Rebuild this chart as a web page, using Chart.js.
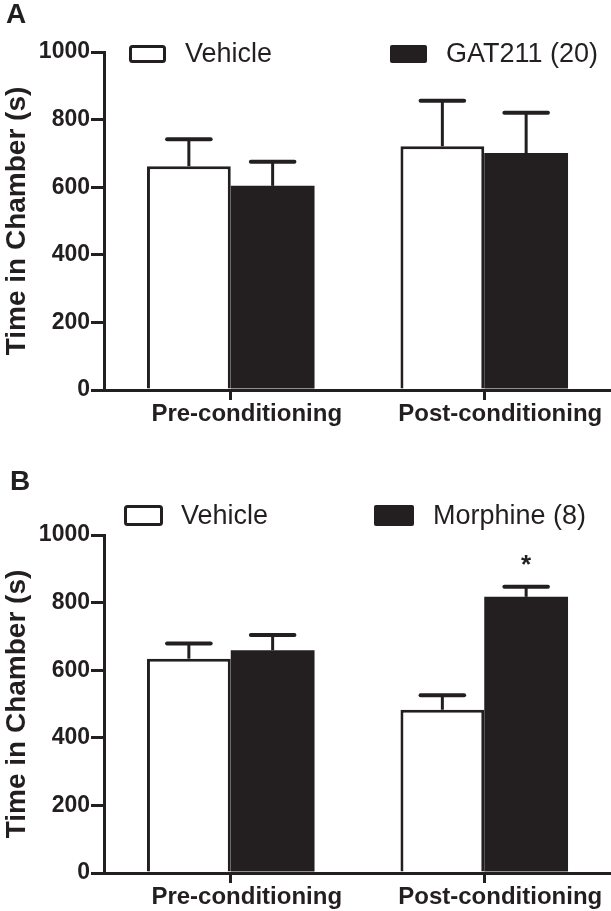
<!DOCTYPE html>
<html>
<head>
<meta charset="utf-8">
<script src="https://cdn.jsdelivr.net/npm/chart.js@4.4.1/dist/chart.umd.min.js"></script>
<style>
  html, body { margin: 0; padding: 0; background: #fff; }
  .panel { position: absolute; left: 0; width: 611px; }
  #panelA { top: 0; height: 450px; }
  #panelB { top: 450px; height: 461px; }
</style>
</head>
<body>
<div class="panel" id="panelA"><canvas id="chartA" width="611" height="450"></canvas></div>
<div class="panel" id="panelB"><canvas id="chartB" width="611" height="461"></canvas></div>
<script>
// ---- data ----
const categories = ['Pre-conditioning', 'Post-conditioning'];
const yTicks = [0, 200, 400, 600, 800, 1000];
const yTitle = 'Time in Chamber (s)';

// Panel A
const namesA = ['Vehicle', 'GAT211 (20)'];
const vehicleA = [662, 721];
const vehicleAErr = [80, 135];
const gatA = [604, 701];
const gatAErr = [71, 119];

// Panel B
const namesB = ['Vehicle', 'Morphine (8)'];
const vehicleB = [634, 483];
const vehicleBErr = [45, 43];
const morphineB = [659, 817];
const morphineBErr = [45, 30];
const morphineBSig = ['', '*'];

const INK = '#231f20';
const FONT = "'Liberation Sans', Arial, sans-serif";

// error bars (upper only) + significance marks
const errorBarPlugin = {
  id: 'errorBars',
  afterDatasetsDraw(chart) {
    const ctx = chart.ctx;
    const yScale = chart.scales.y;
    ctx.save();
    ctx.strokeStyle = INK;
    ctx.fillStyle = INK;
    chart.data.datasets.forEach((ds, i) => {
      const meta = chart.getDatasetMeta(i);
      meta.data.forEach((bar, j) => {
        const top = ds.data[j] + (ds.errors ? ds.errors[j] : 0);
        const yTop = yScale.getPixelForValue(top);
        if (ds.errors) {
          ctx.lineWidth = 3;
          ctx.lineCap = 'butt';
          ctx.beginPath();
          ctx.moveTo(bar.x, bar.y);
          ctx.lineTo(bar.x, yTop);
          ctx.stroke();
          const half = bar.width * 0.26;
          ctx.lineWidth = 4;
          ctx.lineCap = 'round';
          ctx.beginPath();
          ctx.moveTo(bar.x - half, yTop);
          ctx.lineTo(bar.x + half, yTop);
          ctx.stroke();
        }
        if (ds.sig && ds.sig[j]) {
          ctx.font = 'bold 26px ' + FONT;
          ctx.textAlign = 'center';
          ctx.textBaseline = 'middle';
          ctx.fillText(ds.sig[j], bar.x, yTop - 21);
        }
      });
    });
    ctx.restore();
  }
};

// panel letter + hand placed legend
const panelDecorPlugin = {
  id: 'panelDecor',
  afterDraw(chart, args, opts) {
    const ctx = chart.ctx;
    ctx.save();
    ctx.fillStyle = INK;
    ctx.font = 'bold 28px ' + FONT;
    ctx.textAlign = 'left';
    ctx.textBaseline = 'alphabetic';
    ctx.fillText(opts.letter, opts.letterX, opts.letterY);

    ctx.font = '27px ' + FONT;
    ctx.textBaseline = 'middle';
    chart.data.datasets.forEach((ds, i) => {
      const it = opts.items[i];
      if (ds.backgroundColor === '#ffffff') {
        ctx.lineWidth = 3;
        ctx.strokeStyle = INK;
        ctx.beginPath();
        ctx.roundRect(it.x + 1.5, opts.boxY + 1.5, it.w - 3, opts.boxH - 3, 2);
        ctx.stroke();
      } else {
        ctx.beginPath();
        ctx.roundRect(it.x, opts.boxY, it.w, opts.boxH, 2);
        ctx.fill();
      }
      ctx.fillText(ds.label, it.textX, opts.boxY + opts.boxH / 2 + 1);
    });
    ctx.restore();
  }
};

function makePanel(canvasId, names, s1, e1, s2, e2, sig2, plotTop, plotBottom, canvasH, decor) {
  const xHeight = 38;
  return new Chart(document.getElementById(canvasId), {
    type: 'bar',
    data: {
      labels: categories,
      datasets: [
        {
          label: names[0], data: s1, errors: e1,
          backgroundColor: '#ffffff', borderColor: INK, borderWidth: 3,
          categoryPercentage: 0.661, barPercentage: 1
        },
        {
          label: names[1], data: s2, errors: e2, sig: sig2,
          backgroundColor: INK, borderColor: INK, borderWidth: 0,
          categoryPercentage: 0.661, barPercentage: 1
        }
      ]
    },
    options: {
      responsive: false,
      devicePixelRatio: 1,
      animation: false,
      layout: { padding: { top: plotTop, right: 0, left: 0, bottom: canvasH - plotBottom - xHeight } },
      plugins: {
        legend: { display: false },
        tooltip: { enabled: false },
        panelDecor: decor
      },
      scales: {
        x: {
          offset: true,
          grid: { display: true, drawOnChartArea: false, offset: false, tickLength: 10, lineWidth: 3, color: INK },
          border: { display: true, width: 3, color: INK },
          ticks: { color: INK, font: { family: FONT, size: 24, weight: 'bold' }, padding: 0, labelOffset: 16, maxRotation: 0, autoSkip: false },
          afterFit: s => { s.height = xHeight; }
        },
        y: {
          min: 0, max: 1000,
          afterBuildTicks: s => { s.ticks = yTicks.map(v => ({ value: v })); },
          grid: { display: true, drawOnChartArea: false, tickLength: 13, lineWidth: 3, color: INK },
          border: { display: true, width: 3, color: INK },
          ticks: { color: INK, font: { family: FONT, size: 23, weight: 'bold' }, padding: 1, callback: v => String(v) },
          title: { display: true, text: yTitle, color: INK, font: { family: FONT, size: 28, weight: 'bold' }, padding: 0 },
          afterFit: s => { s.width = 104; }
        }
      }
    },
    plugins: [errorBarPlugin, panelDecorPlugin]
  });
}

makePanel('chartA', namesA, vehicleA, vehicleAErr, gatA, gatAErr, null, 52, 390, 450, {
  letter: 'A', letterX: 6, letterY: 23,
  boxY: 45, boxH: 18,
  items: [{ x: 129, w: 37, textX: 185 }, { x: 390, w: 37, textX: 446 }]
});

makePanel('chartB', namesB, vehicleB, vehicleBErr, morphineB, morphineBErr, morphineBSig, 85, 423, 461, {
  letter: 'B', letterX: 10, letterY: 40,
  boxY: 55, boxH: 21,
  items: [{ x: 124, w: 39, textX: 181 }, { x: 374, w: 40, textX: 433 }]
});
</script>
</body>
</html>
